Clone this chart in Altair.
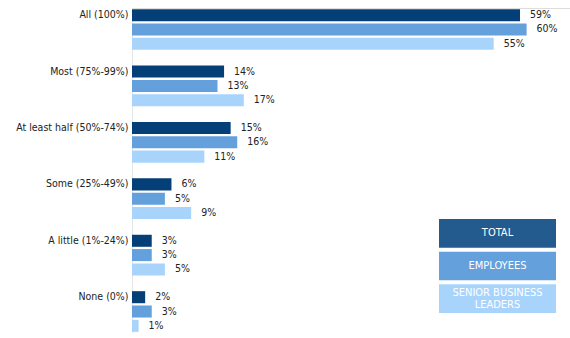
import altair as alt
import pandas as pd

categories = ["All (100%)", "Most (75%-99%)", "At least half (50%-74%)",
              "Some (25%-49%)", "A little (1%-24%)", "None (0%)"]
series = ["TOTAL", "EMPLOYEES", "SENIOR BUSINESS LEADERS"]
total = [59, 14, 15, 6, 3, 2]
employees = [60, 13, 16, 5, 3, 3]
senior = [55, 17, 11, 9, 5, 1]

bar_colors = ["#053f77", "#64a0dc", "#a8d4fc"]
legend_colors = ["#245b8f", "#64a0dc", "#a8d4fc"]
legend_text = ["TOTAL", "EMPLOYEES", "SENIOR BUSINESS\nLEADERS"]
legend_lines = [1, 1, 2]

rows = []
for i, c in enumerate(categories):
    for s, vals in zip(series, [total, employees, senior]):
        rows.append({"category": c, "series": s, "value": vals[i],
                     "label": f"{vals[i]}%"})
df = pd.DataFrame(rows)
leg = pd.DataFrame({"series": series, "text": legend_text,
                    "lines": legend_lines})

FONT = "DejaVu Sans Condensed, Roboto, sans-serif"

base = alt.Chart(df).encode(
    y=alt.Y("category:N", sort=categories,
            scale=alt.Scale(paddingInner=0.238, paddingOuter=0),
            axis=alt.Axis(title=None, ticks=False, labelPadding=4,
                          labelOffset=-14.3, domainColor="#e6e6e6",
                          labelFont=FONT, labelFontSize=10.5,
                          labelColor="#222222", labelLimit=200)),
    yOffset=alt.YOffset("series:N", sort=series,
                        scale=alt.Scale(paddingInner=0.16, paddingOuter=0.08)),
)

bars = base.mark_bar().encode(
    x=alt.X("value:Q", scale=alt.Scale(domain=[0, 66.6]), axis=None),
    color=alt.Color("series:N", sort=series,
                    scale=alt.Scale(domain=series, range=bar_colors),
                    legend=None),
)

labels = base.mark_text(align="left", baseline="middle", dx=10,
                        font=FONT, fontSize=10.5, color="#222222").encode(
    x=alt.X("value:Q", scale=alt.Scale(domain=[0, 66.6]), axis=None),
    text="label:N",
)

leg_y = alt.Y("series:N", sort=series,
              scale=alt.Scale(domain=series, range=[211, 305],
                              paddingInner=0.12, paddingOuter=0),
              axis=None)

leg_boxes = alt.Chart(leg).mark_rect().encode(
    y=leg_y,
    x=alt.value(307), x2=alt.value(424),
    color=alt.Color("series:N", sort=series,
                    scale=alt.Scale(domain=series, range=legend_colors),
                    legend=None),
)
leg_text1 = alt.Chart(leg).transform_filter("datum.lines == 1").mark_text(
    align="center", baseline="middle", color="white", font=FONT,
    fontSize=11, fontWeight=500).encode(
    y=leg_y, x=alt.value(365.5), text="text:N",
)
leg_text2 = alt.Chart(leg).transform_filter("datum.lines == 2").mark_text(
    align="center", baseline="middle", color="white", font=FONT,
    fontSize=11, fontWeight=500, lineBreak="\n", lineHeight=12, dy=-6).encode(
    y=leg_y, x=alt.value(365.5), text="text:N",
)

main = alt.layer(bars, labels)
legend = alt.layer(leg_boxes, leg_text1, leg_text2).resolve_scale(color="independent")

chart = alt.layer(main, legend).resolve_scale(
    y="independent", color="independent"
).properties(
    width=438, height=325,
    autosize=alt.AutoSizeParams(type="none"),
    padding={"left": 132, "top": 8, "right": 0, "bottom": 0},
).configure_view(stroke=None).configure(background="white")

chart.save("out.html", embed_options={"renderer": "svg", "actions": False})
